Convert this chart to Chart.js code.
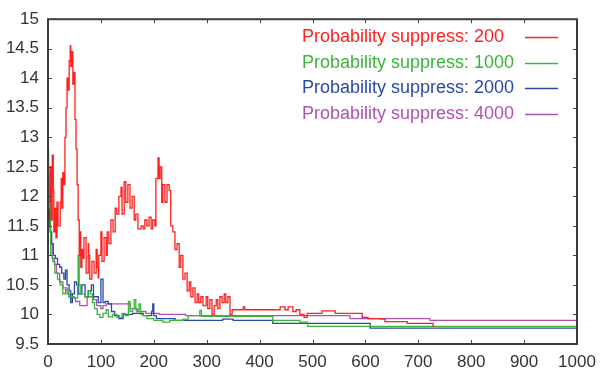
<!DOCTYPE html>
<html>
<head>
<meta charset="utf-8">
<script src="https://cdn.jsdelivr.net/npm/chart.js@4.4.0/dist/chart.umd.min.js"></script>
<style>
  html, body { margin: 0; padding: 0; background: #fff; }
  #wrap { width: 609px; height: 374px; }
</style>
</head>
<body>
<div id="wrap"><canvas id="c" width="609" height="374"></canvas></div>
<script>
// series (x = iteration, y = value), stepped lines
var redX = [0,4,6,8,10,11,13,15,17,19,23,25,26,28,30,32,34,36,38,40,42,43,45,47,49,51,53,55,57,59,60,62,64,66,68,72,76,77,79,83,87,91,93,95,96,100,102,106,110,112,115,119,123,127,130,134,138,140,144,147,151,155,159,163,166,170,176,180,183,187,191,195,198,202,204,208,210,212,215,217,221,225,229,232,236,240,244,248,251,255,259,263,267,270,274,278,282,285,289,293,299,302,306,310,314,318,321,325,329,333,336,340,344,348,369,372,439,448,454,463,469,476,484,490,518,543,594,605,628,637,679,728,730];
var redY = [11.9,12.5,11.6,12.7,12.1,11.4,11.8,11.3,11.9,11.5,11.9,12.3,11.8,12.4,12.2,13.0,13.5,14.0,13.8,14.3,14.55,14.2,14.45,13.9,14.1,13.3,12.8,12.2,11.6,11.0,11.4,10.8,11.1,10.95,11.3,10.7,11.2,11.0,10.6,10.9,10.7,11.1,10.8,10.62,11.0,11.4,10.9,11.3,11.0,11.4,11.2,11.6,11.4,11.8,11.7,12.0,12.15,11.7,12.25,11.9,12.2,11.8,12.0,11.6,11.7,11.45,11.5,11.45,11.6,11.5,11.65,11.45,11.6,11.5,12.3,12.65,12.3,12.5,11.9,12.2,11.9,12.2,12.1,11.5,11.4,11.1,11.2,10.8,11.0,10.6,10.7,10.4,10.55,10.3,10.45,10.2,10.35,10.2,10.3,10.15,10.3,10.1,10.25,10.0,10.15,10.25,10.1,10.3,10.2,10.35,10.2,10.3,10.0,10.08,10.13,10.08,10.13,10.08,10.13,10.05,10.08,10.0,9.95,10.02,10.06,10.02,9.95,9.93,9.92,9.88,9.85,9.8,9.8];

var greenX = [0,2,3,5,9,13,18,23,28,33,39,50,56,57,59,62,70,76,80,84,88,93,98,104,110,114,122,130,140,146,152,155,160,163,166,172,175,180,187,200,217,230,255,265,283,287,290,425,476,491,1000];
var greenY = [12.4,11.8,12.2,11.0,10.9,10.7,10.6,10.5,10.35,10.42,10.3,10.28,10.5,11.0,10.5,10.35,10.3,10.4,10.35,10.2,10.1,10.0,9.95,10.02,10.08,9.96,10.0,9.95,10.02,9.98,10.22,10.05,10.1,10.25,10.08,10.18,10.0,9.98,9.93,9.9,9.87,9.9,9.92,9.98,9.98,10.07,9.97,9.9,9.87,9.8,9.8];

var blueX = [0,1,3,4,7,10,14,18,22,26,30,33,36,40,43,46,50,54,58,64,70,76,82,86,95,100,104,108,114,120,126,134,142,160,180,196,198,200,205,240,270,330,350,425,609,1000];
var blueY = [12.8,11.6,11.8,11.4,11.2,11.0,10.95,10.85,10.8,10.7,10.6,10.75,10.5,10.4,10.2,10.35,10.55,10.5,10.35,10.5,10.3,10.4,10.5,10.3,10.2,10.6,10.2,10.22,10.18,10.05,9.98,9.93,10.0,10.02,9.98,10.05,10.18,9.98,9.93,9.9,9.9,9.92,9.9,9.85,9.77,9.77];

var purpleX = [0,2,3,5,8,12,16,22,28,36,42,52,60,74,86,92,100,104,110,150,156,168,185,210,260,571,722,1000];
var purpleY = [11.7,12.2,11.5,11.2,10.95,10.85,10.7,10.55,10.45,10.35,10.28,10.22,10.15,10.3,10.25,10.15,10.1,10.15,10.18,10.18,10.1,10.05,10.02,10.0,9.98,9.93,9.9,9.9];

var labels = ['Probability suppress: 200', 'Probability suppress: 1000', 'Probability suppress: 2000', 'Probability suppress: 4000'];
var colors = ['#ff2020', '#3cb43c', '#2b48a8', '#b050b0'];

var xTicks = [0,100,200,300,400,500,600,700,800,900,1000];
var yTicks = [9.5,10,10.5,11,11.5,12,12.5,13,13.5,14,14.5,15];

function pts(xs, ys) {
    var out = [];
    for (var i = 0; i < xs.length; i++) out.push({x: xs[i], y: ys[i]});
    return out;
}

// box round the plot with inward tick marks on all four sides
var framePlugin = {
    id: 'frame',
    afterDraw: function(chart) {
        var ctx = chart.ctx, a = chart.chartArea;
        var xs = chart.scales.x, ys = chart.scales.y;
        ctx.save();
        ctx.strokeStyle = '#444';
        ctx.lineWidth = 1;
        xTicks.forEach(function(v) {
            var px = Math.round(xs.getPixelForValue(v)) + 0.5;
            ctx.beginPath();
            ctx.moveTo(px, a.bottom); ctx.lineTo(px, a.bottom - 4);
            ctx.moveTo(px, a.top); ctx.lineTo(px, a.top + 4);
            ctx.stroke();
        });
        yTicks.forEach(function(v) {
            var py = Math.round(ys.getPixelForValue(v)) + 0.5;
            ctx.beginPath();
            ctx.moveTo(a.left, py); ctx.lineTo(a.left + 4, py);
            ctx.moveTo(a.right, py); ctx.lineTo(a.right - 4, py);
            ctx.stroke();
        });
        ctx.lineWidth = 2;
        ctx.strokeStyle = '#3c3c3c';
        ctx.strokeRect(a.left, a.top, a.right - a.left, a.bottom - a.top);
        ctx.restore();
    }
};

// legend: coloured text on the left, line sample on the right
var legendPlugin = {
    id: 'rightLegend',
    afterDraw: function(chart) {
        var ctx = chart.ctx;
        ctx.save();
        ctx.font = '18px "Liberation Sans", Arial, sans-serif';
        ctx.textBaseline = 'middle';
        ctx.textAlign = 'left';
        for (var i = 0; i < labels.length; i++) {
            var y = 37 + i * 25.7;
            ctx.fillStyle = colors[i];
            ctx.fillText(labels[i], 302, y);
            ctx.strokeStyle = colors[i];
            ctx.lineWidth = 1.3;
            ctx.beginPath();
            ctx.moveTo(525, Math.round(y) + 0.5);
            ctx.lineTo(558, Math.round(y) + 0.5);
            ctx.stroke();
        }
        ctx.restore();
    }
};

var series = [pts(redX, redY), pts(greenX, greenY), pts(blueX, blueY), pts(purpleX, purpleY)];

new Chart(document.getElementById('c'), {
    type: 'line',
    data: {
        datasets: series.map(function(d, i) {
            return {
                label: labels[i],
                data: d,
                borderColor: colors[i],
                backgroundColor: colors[i],
                borderWidth: 1.3,
                pointRadius: 0,
                stepped: true,
                fill: false
            };
        })
    },
    options: {
        responsive: false,
        animation: false,
        layout: { padding: { left: 0, top: 13, right: 32, bottom: 0 } },
        plugins: { legend: { display: false }, tooltip: { enabled: false } },
        scales: {
            x: {
                type: 'linear',
                min: 0, max: 1000,
                afterFit: function(s) { s.height = 30; },
                grid: { display: false, drawTicks: false },
                border: { display: false },
                ticks: {
                    stepSize: 100, padding: 8, maxRotation: 0,
                    color: '#333',
                    font: { family: '"Liberation Sans", Arial, sans-serif', size: 17 },
                    callback: function(v) { return String(v); }
                }
            },
            y: {
                type: 'linear',
                min: 9.5, max: 15,
                afterFit: function(s) { s.width = 48; },
                grid: { display: false, drawTicks: false },
                border: { display: false },
                ticks: {
                    stepSize: 0.5, padding: 9,
                    color: '#333',
                    font: { family: '"Liberation Sans", Arial, sans-serif', size: 17 },
                    callback: function(v) { return String(v); }
                }
            }
        }
    },
    plugins: [framePlugin, legendPlugin]
});
</script>
</body>
</html>
